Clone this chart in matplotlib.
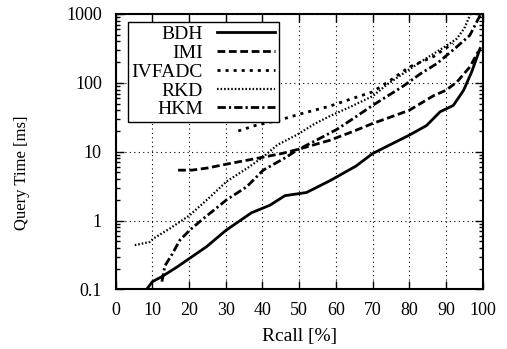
import matplotlib
matplotlib.use('Agg')
import matplotlib.pyplot as plt
from matplotlib.ticker import LogLocator, NullFormatter
import numpy as np

plt.rcParams['font.family'] = ['Liberation Serif', 'DejaVu Serif']

# recall [%] / query time [ms]
bdh_recall = [8.4, 10, 12.5, 16.6, 20, 24.8, 30, 37, 42, 46.1, 52, 58.4, 65.5, 70, 75, 80, 84.7, 88.4, 92, 94.8, 97, 99.3]
bdh_time = [0.1, 0.13, 0.153, 0.21, 0.28, 0.42, 0.72, 1.3, 1.67, 2.3, 2.56, 3.8, 6.2, 9.4, 12.8, 17.4, 24, 38, 47, 78, 144, 315]

imi_recall = [17, 20.7, 25, 30.2, 38.4, 45.2, 50.2, 58.4, 65, 70, 75, 80, 86.6, 90, 93, 96.5, 98.8]
imi_time = [5.4, 5.4, 5.8, 6.6, 8.0, 9.4, 11, 14.7, 20, 25.7, 32, 40, 65, 78, 103, 170, 285]

ivf_recall = [33.4, 38, 44.8, 50, 58.4, 64, 70, 75, 80, 86.6, 90, 92]
ivf_time = [20, 24, 29, 35, 46, 58, 74, 110, 170, 240, 320, 370]

rkd_recall = [5.2, 9.3, 10.3, 14.8, 20.2, 25.7, 30.2, 35.7, 40.2, 44, 49.3, 54, 58.4, 64, 70, 74, 78.4, 83, 87.5, 91, 93, 95, 96.7]
rkd_time = [0.44, 0.49, 0.55, 0.77, 1.2, 2.2, 3.7, 5.7, 8.4, 12.5, 17.5, 25, 33, 45, 64, 95, 137, 200, 283, 370, 440, 620, 1000]

hkm_recall = [12.6, 13.4, 15.3, 17.5, 20.2, 23.9, 30.2, 35.7, 40.2, 46.6, 49.3, 55, 60.2, 65, 70, 74, 78.4, 83, 87.5, 93, 96.5, 99.5]
hkm_time = [0.13, 0.22, 0.32, 0.52, 0.73, 1.07, 2.0, 3.1, 5.4, 8.4, 10.5, 15, 21, 31, 47, 64, 90, 135, 190, 335, 490, 1000]

series = [
    ('BDH', bdh_recall, bdh_time, '-', 2.0),
    ('IMI', imi_recall, imi_time, (0, (2.8, 1.3)), 2.0),
    ('IVFADC', ivf_recall, ivf_time, (0, (1.1, 1.8)), 2.0),
    ('RKD', rkd_recall, rkd_time, (0, (0.7, 0.9)), 1.6),
    ('HKM', hkm_recall, hkm_time, (0, (3, 1.1, 0.8, 1.1)), 2.0),
]

xticks = [0, 10, 20, 30, 40, 50, 60, 70, 80, 90, 100]
yticks = [0.1, 1, 10, 100, 1000]
ytick_labels = ['0.1', '1', '10', '100', '1000']

fig = plt.figure(figsize=(5.07, 3.49), dpi=100)
ax = fig.add_axes([0.2282, 0.1705, 0.952 - 0.2282, 0.96 - 0.1705])

for name, x, y, ls, lw in series:
    ax.plot(x, y, color='black', linestyle=ls, linewidth=lw, label=name)

ax.set_yscale('log')
ax.set_xlim(0, 100)
ax.set_ylim(0.1, 1000)
ax.set_xticks(xticks)
ax.set_yticks(yticks)
ax.set_yticklabels(ytick_labels)
ax.yaxis.set_minor_locator(LogLocator(base=10, subs=np.arange(2, 10)))
ax.yaxis.set_minor_formatter(NullFormatter())

ax.tick_params(which='both', direction='in', top=True, right=True, width=1.0)
ax.tick_params(which='major', length=6, labelsize=13)
ax.tick_params(axis='x', pad=9)
ax.tick_params(axis='y', pad=10)
ax.tick_params(which='minor', length=3)
for s in ax.spines.values():
    s.set_linewidth(1.5)

ax.grid(True, which='major', color='black', linestyle=(0, (1, 3)), linewidth=0.8)

ax.set_xlabel('Rcall [%]', fontsize=14)
ax.set_ylabel('Query Time [ms]', fontsize=12)
ax.xaxis.set_label_coords(0.5, -0.14)
ax.yaxis.set_label_coords(-0.234, 0.425)

leg = ax.legend(loc='upper left', bbox_to_anchor=(0.0327, 0.972), borderaxespad=0,
                markerfirst=False, fontsize=14, handlelength=3.0, handletextpad=0.7,
                labelspacing=0.06, borderpad=0.2, fancybox=False, framealpha=1,
                edgecolor='black')
leg.get_frame().set_linewidth(1.0)

fig.savefig('out.png', dpi=100)
